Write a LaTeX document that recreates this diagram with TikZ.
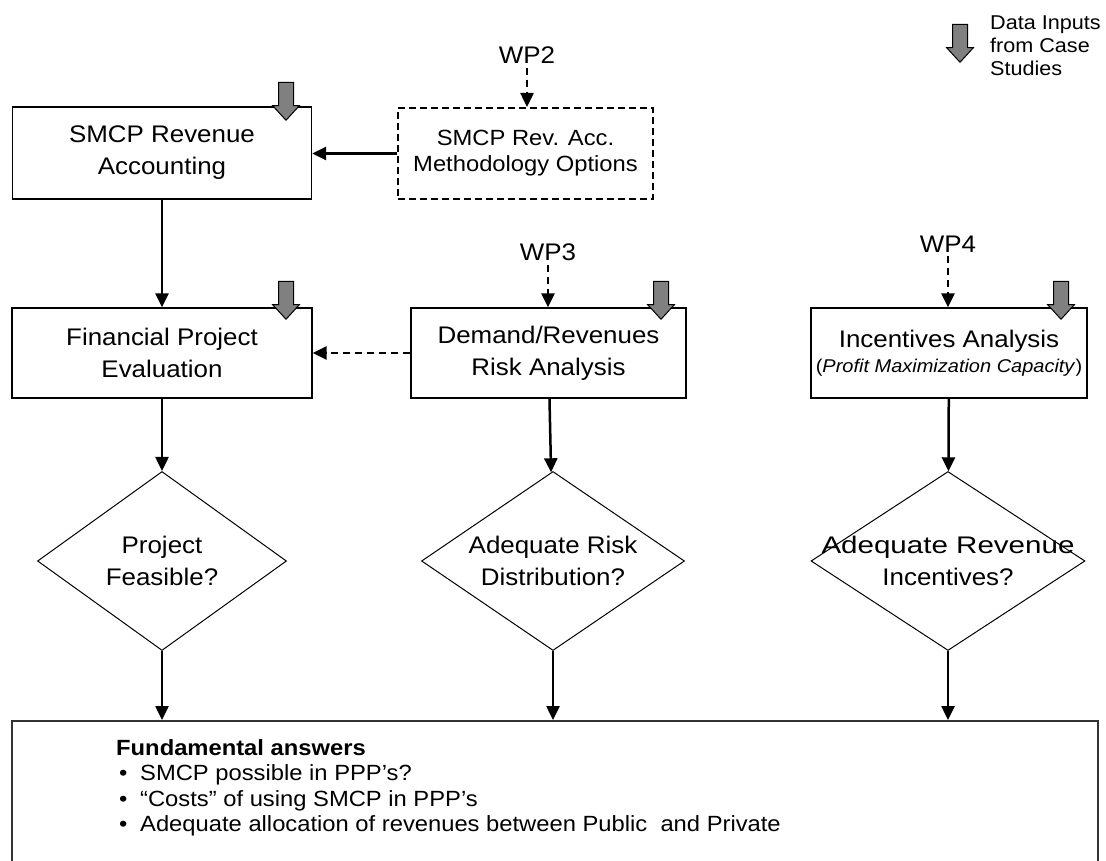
\documentclass[tikz,border=0pt]{standalone}
\usepackage{fontspec}
\setmainfont{Liberation Sans}[FakeStretch=1.08]
\usepackage{graphicx}
\usetikzlibrary{positioning, arrows.meta, shapes.geometric, shapes.arrows}

\begin{document}
\begin{tikzpicture}[
            x=1pt, y=-1pt,
            task/.style = {rectangle, draw, line width=1.3pt, align=center, inner sep=0pt, font=\fontsize{24}{32}\selectfont},
            option/.style = {task, line width=2pt, dash pattern=on 7pt off 4pt, font=\fontsize{22}{26}\selectfont},
            decision/.style = {diamond, draw, line width=1pt, inner sep=0pt},
            qtext/.style = {align=center, inner sep=0pt, font=\fontsize{24}{32}\selectfont},
            wp/.style = {inner sep=4pt, font=\fontsize{24}{28}\selectfont},
            datain/.style = {single arrow, draw, fill=gray, line width=1pt, rotate=-90,
                text height=7pt, text depth=7pt, text width=0pt, inner sep=0pt,
                minimum height=38pt, single arrow head extend=6pt,
                single arrow tip angle=85, anchor=tip},
            flow/.style = {line width=2.5pt, -{Triangle[length=14pt, width=13pt]}},
            feed/.style = {flow, dash pattern=on 7pt off 5pt},
        ]
            \useasboundingbox (0,0) rectangle (1106,861);

            % Legend
            \node[datain] (key) at (960,63) {};
            \node[anchor=west, align=left, inner sep=0pt, font=\fontsize{20}{23}\selectfont] (keytext) at (990,46) {Data Inputs\\from Case\\Studies};

            % Work packages
            \node[wp] (wp2) at (527,55) {WP2};
            \node[wp] (wp3) at (548,252) {WP3};
            \node[wp] (wp4) at (948,244) {WP4};

            % Top row
            \node[task, minimum width=299pt, minimum height=92pt] (acc) at (162,153) {SMCP Revenue\\Accounting};
            \node[option, minimum width=255pt, minimum height=91pt] (meth) at (525.5,153.5) {SMCP Rev. Acc.\\Methodology Options};

            % Analysis row
            \node[task, minimum width=300pt, minimum height=90pt] (fin) at (162,353) {Financial Project\\Evaluation};
            \node[task, minimum width=275pt, minimum height=90pt] (risk) at (548.5,353) {Demand/Revenues\\Risk Analysis};
            \node[task, minimum width=276pt, minimum height=90pt] (inc) at (949,353) {Incentives Analysis\\[-7pt]{\fontsize{18.5}{22}\selectfont(\textit{Profit Maximization Capacity})}};

            % Case study inputs
            \node[datain] (d1) at (286,121) {};
            \node[datain] (d2) at (286,320) {};
            \node[datain] (d3) at (661,320) {};
            \node[datain] (d4) at (1061,320) {};

            % Questions
            \node[decision, minimum width=249pt, minimum height=179pt, label={[qtext]center:{Project\\Feasible?}}] (q1) at (162,561) {};
            \node[decision, minimum width=263pt, minimum height=179pt, label={[qtext]center:{Adequate Risk\\Distribution?}}] (q2) at (553,561) {};
            \node[decision, minimum width=274pt, minimum height=179pt, label={[qtext]center:{\scalebox{1.14}[1]{Adequate Revenue}\\Incentives?}}] (q3) at (948,561) {};

            % Answers (runs off the bottom)
            \node[rectangle, draw=black!80, line width=1.5pt, anchor=north west, minimum width=1086pt, minimum height=170pt] (ans) at (11,720) {};
            \node[anchor=north west, align=left, inner sep=0pt, font=\fontsize{22}{25.5}\selectfont] (anstext) at (116,739) {%
                \textbf{Fundamental answers}\\
                \makebox[24pt][l]{\hspace{3pt}•}SMCP possible in PPP’s?\\
                \makebox[24pt][l]{\hspace{3pt}•}“Costs” of using SMCP in PPP’s\\
                \makebox[24pt][l]{\hspace{3pt}•}Adequate allocation of revenues between Public~ and Private};

            % Work package inputs
            \draw[feed] (wp2.south) -- (wp2.south |- meth.north);
            \draw[feed] (wp3.south) -- (wp3.south |- risk.north);
            \draw[feed] (wp4.south) -- (wp4.south |- inc.north);

            % Flow between boxes
            \draw[flow] (meth.west) -- (acc.east |- meth.west);
            \draw[flow] (acc) -- (fin);
            \draw[feed] (risk.west) -- (fin.east |- risk.west);
            \draw[flow] (fin) -- (q1);
            \draw[flow] (risk) -- (q2);
            \draw[flow] (inc) -- (q3);

            % Into the answers
            \draw[flow] (q1.south) -- (q1.south |- ans.north);
            \draw[flow] (q2.south) -- (q2.south |- ans.north);
            \draw[flow] (q3.south) -- (q3.south |- ans.north);
        \end{tikzpicture}
\end{document}
